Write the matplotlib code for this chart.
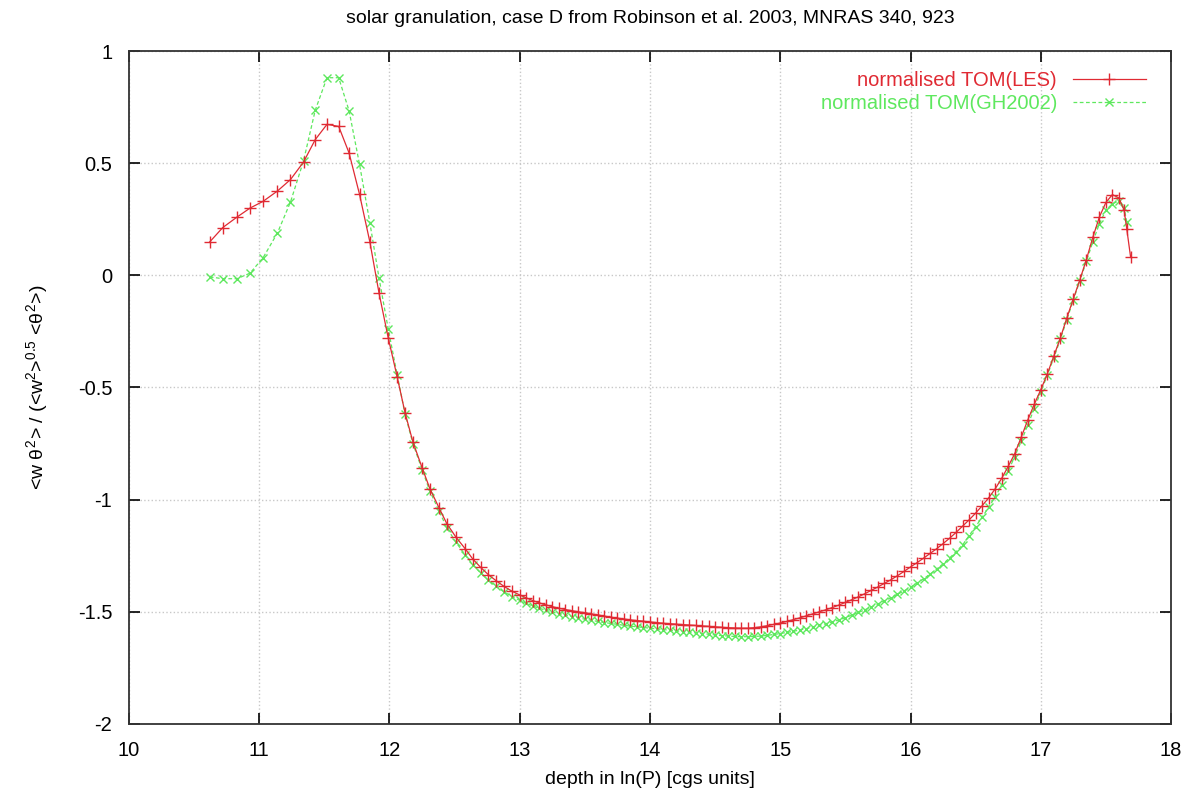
import numpy as np
import matplotlib
matplotlib.use("Agg")
import matplotlib.pyplot as plt
from matplotlib.ticker import FormatStrFormatter

plt.rcParams['font.family'] = ['Liberation Sans', 'DejaVu Sans']
plt.rcParams['mathtext.fontset'] = 'custom'
plt.rcParams['mathtext.rm'] = 'Liberation Sans'
plt.rcParams['mathtext.it'] = 'Liberation Sans'

# depth grid, ln(P)
lnp = [10.62, 10.72, 10.83, 10.93, 11.03, 11.14, 11.24, 11.34, 11.43, 11.52,
       11.61, 11.69, 11.77, 11.85, 11.92, 11.99, 12.06, 12.12, 12.18, 12.25,
       12.31, 12.38, 12.44, 12.51, 12.58, 12.64, 12.70, 12.76, 12.82, 12.88,
       12.94, 13.00, 13.05, 13.10, 13.15, 13.20, 13.25, 13.30, 13.35, 13.40,
       13.45, 13.50, 13.55, 13.60, 13.65, 13.70, 13.75, 13.80, 13.85, 13.90,
       13.95, 14.00, 14.05, 14.10, 14.15, 14.20, 14.25, 14.30, 14.35, 14.40,
       14.45, 14.50, 14.55, 14.60, 14.65, 14.70, 14.75, 14.80, 14.85, 14.90,
       14.95, 15.00, 15.05, 15.10, 15.15, 15.20, 15.25, 15.30, 15.35, 15.40,
       15.45, 15.50, 15.55, 15.60, 15.65, 15.70, 15.75, 15.80, 15.85, 15.90,
       15.95, 16.00, 16.05, 16.10, 16.15, 16.20, 16.25, 16.30, 16.35, 16.40,
       16.45, 16.50, 16.55, 16.60, 16.65, 16.70, 16.75, 16.80, 16.85, 16.90,
       16.95, 17.00, 17.05, 17.10, 17.15, 17.20, 17.25, 17.30, 17.35, 17.40,
       17.45, 17.50, 17.55, 17.60, 17.64, 17.66, 17.69]

tom_les = [0.149, 0.213, 0.260, 0.300, 0.330, 0.376, 0.427, 0.505, 0.605, 0.673,
           0.664, 0.545, 0.361, 0.147, -0.080, -0.278, -0.455, -0.614, -0.743, -0.857,
           -0.951, -1.036, -1.107, -1.167, -1.218, -1.265, -1.302, -1.335, -1.362, -1.387,
           -1.408, -1.425, -1.438, -1.450, -1.460, -1.469, -1.477, -1.484, -1.490, -1.495,
           -1.500, -1.504, -1.509, -1.514, -1.519, -1.524, -1.528, -1.532, -1.536, -1.539,
           -1.542, -1.545, -1.548, -1.551, -1.553, -1.555, -1.557, -1.559, -1.561, -1.563,
           -1.565, -1.567, -1.569, -1.571, -1.572, -1.573, -1.573, -1.571, -1.567, -1.562,
           -1.556, -1.550, -1.543, -1.535, -1.527, -1.518, -1.509, -1.500, -1.491, -1.481,
           -1.470, -1.458, -1.446, -1.433, -1.419, -1.404, -1.389, -1.373, -1.357, -1.339,
           -1.320, -1.300, -1.281, -1.261, -1.240, -1.219, -1.196, -1.172, -1.146, -1.118,
           -1.090, -1.060, -1.027, -0.992, -0.952, -0.905, -0.852, -0.795, -0.722, -0.645,
           -0.575, -0.510, -0.440, -0.360, -0.280, -0.190, -0.105, -0.020, 0.070, 0.170,
           0.260, 0.325, 0.360, 0.345, 0.290, 0.208, 0.080]

tom_gh2002 = [-0.007, -0.015, -0.015, 0.010, 0.079, 0.189, 0.327, 0.510, 0.736, 0.881,
              0.881, 0.733, 0.495, 0.232, -0.013, -0.238, -0.446, -0.620, -0.750, -0.866,
              -0.962, -1.050, -1.125, -1.190, -1.245, -1.290, -1.327, -1.360, -1.387, -1.411,
              -1.432, -1.449, -1.462, -1.474, -1.484, -1.493, -1.501, -1.508, -1.515, -1.521,
              -1.527, -1.533, -1.538, -1.543, -1.548, -1.552, -1.556, -1.560, -1.564, -1.567,
              -1.570, -1.573, -1.576, -1.579, -1.582, -1.585, -1.588, -1.591, -1.594, -1.597,
              -1.600, -1.603, -1.606, -1.608, -1.610, -1.611, -1.611, -1.610, -1.608, -1.605,
              -1.601, -1.597, -1.592, -1.587, -1.581, -1.575, -1.568, -1.561, -1.553, -1.545,
              -1.536, -1.526, -1.515, -1.503, -1.491, -1.478, -1.465, -1.451, -1.437, -1.422,
              -1.407, -1.390, -1.372, -1.353, -1.332, -1.310, -1.286, -1.260, -1.232, -1.202,
              -1.160, -1.120, -1.078, -1.034, -0.988, -0.935, -0.873, -0.808, -0.740, -0.668,
              -0.594, -0.520, -0.446, -0.368, -0.286, -0.198, -0.110, -0.025, 0.062, 0.150,
              0.230, 0.290, 0.320, 0.330, 0.300, 0.240, np.nan]

fig = plt.figure(figsize=(11.92, 7.96), dpi=100)
ax = fig.add_axes([0.1082, 0.0905, 0.8742, 0.8454])

ax.plot(lnp, tom_les, '-', color='#e02a33', lw=0.9, marker='+', ms=8, mew=1.0,
        label='normalised TOM(LES)', zorder=3)
ax.plot(lnp, tom_gh2002, '--', color='#5ee85e', lw=0.9, marker='x', ms=5.5, mew=1.0,
        dashes=(3, 2), label='normalised TOM(GH2002)', zorder=2)

ax.set_xlim(10, 18)
ax.set_ylim(-2, 1)
ax.set_xticks(range(10, 19))
ax.set_yticks([-2, -1.5, -1, -0.5, 0, 0.5, 1])
ax.yaxis.set_major_formatter(FormatStrFormatter('%g'))
ax.tick_params(direction='in', top=True, right=True, length=8, width=1.2,
               labelsize=14.5)
ax.tick_params(axis='x', pad=12)
ax.tick_params(axis='y', pad=12)
ax.grid(True, color='#c8c8c8', ls=':', lw=1.0)
for s in ax.spines.values():
    s.set_linewidth(1.3)
    s.set_color('#333333')

ax.set_title('solar granulation, case D from Robinson et al. 2003, MNRAS 340, 923',
             fontsize=14, pad=20)
ax.set_xlabel('depth in ln(P) [cgs units]', fontsize=14, labelpad=8)
ax.set_ylabel(r'<w $\theta^2$> / (<w$^2$>$^{0.5}$ <$\theta^2$>)', fontsize=14, labelpad=20)

ax.legend(loc='upper right', bbox_to_anchor=(0.993, 0.997), frameon=False,
          markerfirst=False, labelcolor='linecolor', fontsize=14.5,
          handlelength=3.6, handletextpad=0.8, labelspacing=0.2)

fig.savefig('out.png', dpi=100)
